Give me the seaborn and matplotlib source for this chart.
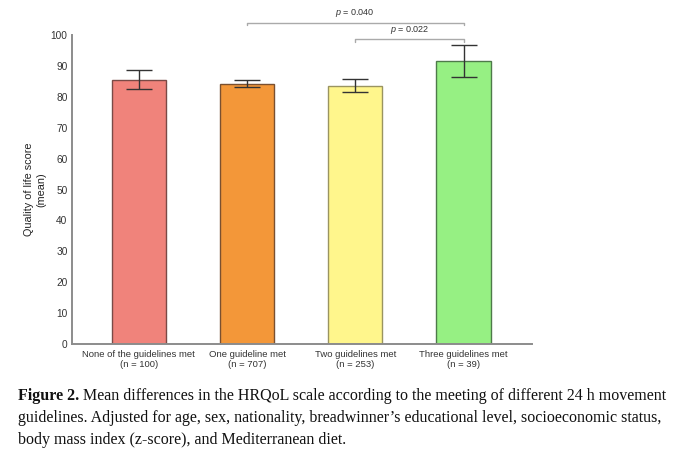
import matplotlib
matplotlib.use("Agg")
import matplotlib.pyplot as plt
import seaborn as sns
import pandas as pd
import numpy as np

categories = ["None of the guidelines met\n(n = 100)", "One guideline met\n(n = 707)",
              "Two guidelines met\n(n = 253)", "Three guidelines met\n(n = 39)"]
means = [85.4, 84.0, 83.5, 91.6]
ci_low = [82.4, 83.1, 81.6, 86.5]
ci_high = [88.7, 85.4, 85.7, 96.8]
y_ticks = [0, 10, 20, 30, 40, 50, 60, 70, 80, 90, 100]
comparisons = [(1, 3, "0.040"), (2, 3, "0.022")]

bar_colors = ["#F0837B", "#F39739", "#FFF68C", "#96F083"]
edge_colors = ["#7a4a46", "#7a5030", "#9a9460", "#4e7a4a"]

sns.set_theme(style="white")
plt.rcParams["font.family"] = ["Liberation Sans", "DejaVu Sans"]
plt.rcParams["mathtext.fontset"] = "custom"
plt.rcParams["mathtext.it"] = "Liberation Sans:italic"
plt.rcParams["mathtext.rm"] = "Liberation Sans"

df = pd.DataFrame({"group": categories, "mean": means})

fig = plt.figure(figsize=(6.8, 4.75), dpi=100)
ax = fig.add_axes([0.1054, 0.2758, 0.782 - 0.1054, 0.9263 - 0.2758])

sns.barplot(data=df, x="group", y="mean", hue="group", palette=bar_colors,
            width=0.5, errorbar=None, legend=False, ax=ax, linewidth=1.0, saturation=1)
for patch, ec in zip(ax.patches, edge_colors):
    patch.set_edgecolor(ec)

xs = np.arange(len(categories))
m = np.array(means)
ax.errorbar(xs, m, yerr=[m - np.array(ci_low), np.array(ci_high) - m], fmt="none",
            ecolor="#333333", elinewidth=1.0, capsize=9.4, capthick=1.0, zorder=5)

ax.set_xlim(-0.62, 3.63)
ax.set_ylim(0, 100)
ax.set_yticks(y_ticks)
ax.set_yticklabels([str(t) for t in y_ticks])
ax.set_xlabel("")
ax.set_ylabel("Quality of life score\n(mean)", fontsize=7.8, color="#222222", labelpad=3,
              linespacing=1.35)
ax.tick_params(axis="y", labelsize=7.3, colors="#333333", length=2.5, width=1,
               direction="out", pad=0.5)
ax.tick_params(axis="x", labelsize=6.8, colors="#333333", length=2.5, width=1,
               direction="out", pad=1.5)
ax.tick_params(axis="both", color="#888888")
for s in ["top", "right"]:
    ax.spines[s].set_visible(False)
for s in ["left", "bottom"]:
    ax.spines[s].set_color("#8c8c8c")
    ax.spines[s].set_linewidth(1.4)

# significance brackets
levels = [104.0, 98.6]
text_levels = [107.0, 101.6]
for (a, b, p), yl, yt in zip(comparisons, levels, text_levels):
    ax.plot([a, a, b, b], [yl - 0.8, yl, yl, yl - 0.8], color="#aaaaaa", lw=1.0,
            clip_on=False)
    ax.text((a + b) / 2, yt, r"$p$ = " + p, ha="center", va="center",
            fontsize=6.5, color="#333333", clip_on=False)

# caption
fig.canvas.draw()
renderer = fig.canvas.get_renderer()
cap_font = ["Liberation Serif", "DejaVu Serif"]
line1 = "Mean differences in the HRQoL scale according to the meeting of different 24 h movement"
x0 = 18 / 680
target_w = 650
ys = [1 - 396 / 475, 1 - 418 / 475, 1 - 440 / 475]

probe_b = fig.text(0, 0, "Figure 2.", fontsize=10, fontweight="bold", family=cap_font)
probe_r = fig.text(0, 0, line1, fontsize=10, family=cap_font)
w10 = probe_b.get_window_extent(renderer).width + 3.5 + probe_r.get_window_extent(renderer).width
probe_b.remove()
probe_r.remove()
cap_size = 10 * target_w / w10

t_bold = fig.text(x0, ys[0], "Figure 2.", fontsize=cap_size, fontweight="bold",
                  family=cap_font, va="center", ha="left", color="#111111")
bb = t_bold.get_window_extent(renderer)
fig.text((bb.x1 + 3.5) / 680, ys[0], line1,
         fontsize=cap_size, family=cap_font, va="center", ha="left", color="#111111")
fig.text(x0, ys[1],
         "guidelines. Adjusted for age, sex, nationality, breadwinner\u2019s educational level, socioeconomic status,",
         fontsize=cap_size, family=cap_font, va="center", ha="left", color="#111111")
fig.text(x0, ys[2], "body mass index (z-score), and Mediterranean diet.",
         fontsize=cap_size, family=cap_font, va="center", ha="left", color="#111111")

fig.savefig("out.png", dpi=100)
